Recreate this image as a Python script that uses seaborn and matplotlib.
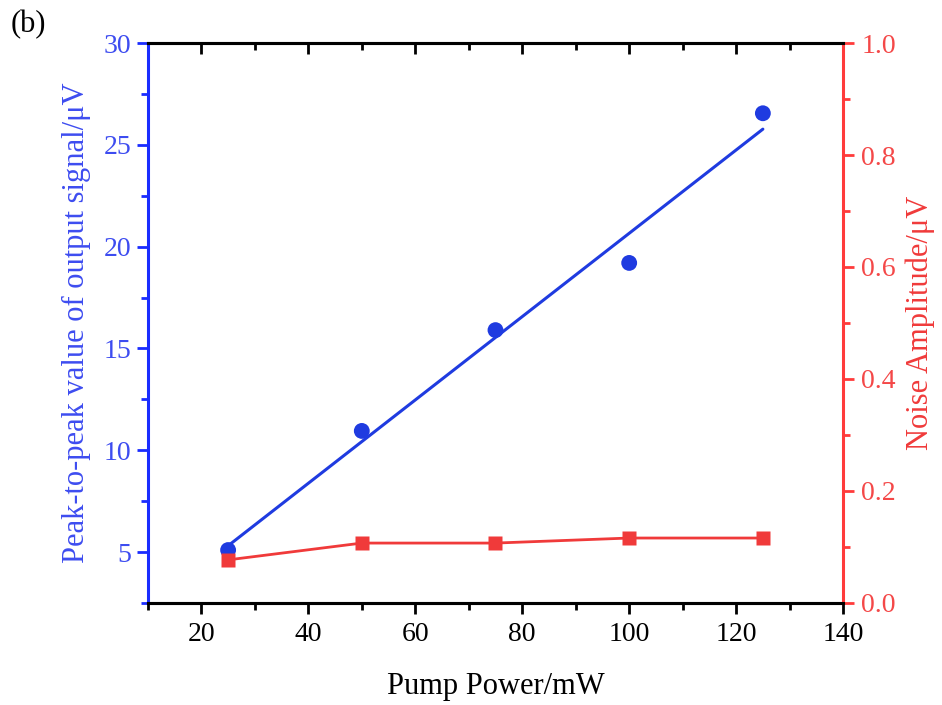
import numpy as np
import pandas as pd
import seaborn as sns
import matplotlib.pyplot as plt
from matplotlib.ticker import MultipleLocator

sns.set_style("white")
plt.rcParams["font.family"] = ["Liberation Serif", "DejaVu Serif"]

# Measurements
pump_power = [25, 50, 75, 100, 125]            # mW
signal_pp = [5.1, 10.95, 15.9, 19.2, 26.55]    # µV, peak-to-peak output
noise_amp = [0.077, 0.107, 0.107, 0.116, 0.116]  # µV

BLUE = "#1f3be0"
BLUE_AX = "#1a2cff"
BLUE_TXT = "#3d4cf0"
RED = "#f03a3a"
RED_AX = "#ff3b3b"
RED_TXT = "#f44848"

df = pd.DataFrame({"power": pump_power, "signal": signal_pp, "noise": noise_amp})

# Linear fit of the signal amplitude
slope, intercept = np.polyfit(df["power"], df["signal"], 1)
fit = pd.DataFrame({"power": [min(pump_power), max(pump_power)]})
fit["signal"] = slope * fit["power"] + intercept

fig = plt.figure(figsize=(9.42, 7.05), dpi=100)
ax = fig.add_axes([0.157, 0.1447, 0.738, 0.7943])
ax2 = ax.twinx()

sns.lineplot(data=fit, x="power", y="signal", ax=ax, color=BLUE, lw=2.2)
sns.scatterplot(data=df, x="power", y="signal", ax=ax, color=BLUE,
                s=130, marker="o", edgecolor="none", zorder=5)

sns.lineplot(data=df, x="power", y="noise", ax=ax2, color=RED, lw=2.0,
             marker="s", markersize=10.5, markeredgecolor="none")

ax.set_xlim(10, 140)
ax.set_ylim(2.5, 30)
ax2.set_ylim(0, 1.0)

ax.xaxis.set_major_locator(MultipleLocator(20))
ax.xaxis.set_minor_locator(MultipleLocator(10))
ax.yaxis.set_major_locator(MultipleLocator(5))
ax.yaxis.set_minor_locator(MultipleLocator(2.5))
ax2.yaxis.set_major_locator(MultipleLocator(0.2))
ax2.yaxis.set_minor_locator(MultipleLocator(0.1))
ax2.yaxis.set_major_formatter(plt.FormatStrFormatter("%.1f"))

for a in (ax, ax2):
    for s in a.spines.values():
        s.set_linewidth(2.2)
        s.set_visible(True)

ax.spines["left"].set_color(BLUE_AX)
ax.spines["bottom"].set_color("black")
ax.spines["top"].set_color("black")
ax.spines["right"].set_visible(False)
ax2.spines["left"].set_visible(False)
ax2.spines["right"].set_color(RED_AX)
ax2.spines["top"].set_color("black")
ax2.spines["bottom"].set_color("black")

ax.tick_params(axis="x", which="both", direction="out", top=True,
               bottom=True, colors="black", labelsize=20, width=2)
ax.tick_params(axis="x", which="major", length=8, pad=6)
ax.tick_params(axis="x", which="minor", length=5)
ax.tick_params(axis="y", which="both", direction="out", colors=BLUE_AX,
               labelcolor=BLUE_TXT, labelsize=20, width=2)
ax.tick_params(axis="y", which="major", length=8, pad=4)
ax.tick_params(axis="y", which="minor", length=5)
ax2.tick_params(axis="y", which="both", direction="out", colors=RED_AX,
                labelcolor=RED_TXT, labelsize=20, width=2)
ax2.tick_params(axis="y", which="major", length=8, pad=5)
ax2.tick_params(axis="y", which="minor", length=5)

# top spine: inward ticks, no labels
ax.xaxis.set_ticks_position("both")
ax.tick_params(axis="x", which="both", top=True, labeltop=False)
for t in ax.xaxis.get_major_ticks() + ax.xaxis.get_minor_ticks():
    t.tick2line.set_marker(3)  # TICKDOWN

ax.set_xlabel("Pump Power/mW", fontsize=22, color="black", labelpad=18)
ax.set_ylabel("Peak-to-peak value of output signal/\u03bcV", fontsize=22,
              color=BLUE_TXT, labelpad=9)
ax2.set_ylabel("Noise Amplitude/\u03bcV", fontsize=22, color=RED, labelpad=7)

fig.text(0.011, 0.955, "(b)", fontsize=22, color="black")

fig.savefig("out.png", dpi=100)
